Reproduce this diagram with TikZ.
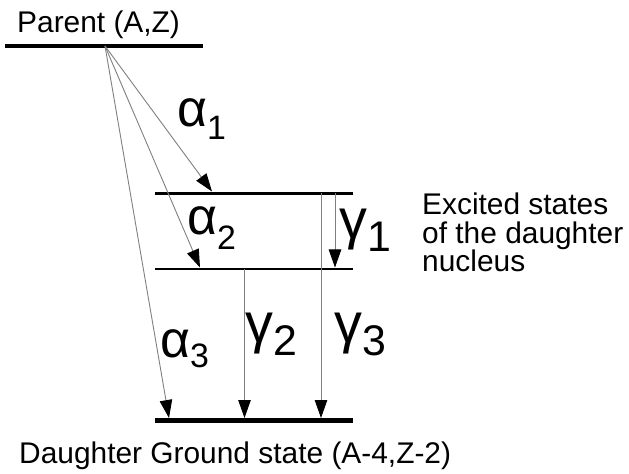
\documentclass[tikz,border=0pt]{standalone}
\usepackage{fontspec}
\setmainfont{Liberation Sans}
\usetikzlibrary{arrows.meta}
\newcommand\alphalab[2]{{\fontsize{52}{52}\selectfont α}\raisebox{#2}{\fontsize{34}{34}\selectfont #1}}
\newcommand\gammalab[1]{{\fontsize{56}{56}\selectfont γ}\raisebox{-13bp}{\fontsize{43}{43}\selectfont #1}}
\begin{document}
\begin{tikzpicture}[x=1bp,y=-1bp,
  level/.style={line width=2.6bp},
  heavylevel/.style={line width=4.8bp},
  trans/.style={draw=gray, line width=0.9bp, -{Triangle[length=18bp,width=12.5bp,color=black]}},
  txt/.style={inner sep=0pt, anchor=base west, font=\fontsize{30}{36}\selectfont},
  lbl/.style={inner sep=0pt, anchor=base west}]
\useasboundingbox (0,0) rectangle (629,474);
\fill[white] (0,0) rectangle (629,474);

% levels
\coordinate (p0) at (5,46);   \coordinate (p1) at (203,46);
\coordinate (e10) at (155,193.3); \coordinate (e11) at (353,193.3);
\coordinate (e20) at (155,269); \coordinate (e21) at (353,269);
\coordinate (g0) at (155,420.5); \coordinate (g1) at (353,420.5);
\draw[heavylevel] (p0) -- (p1);
\draw[level] (e10) -- (e11);
\draw[level] (e20) -- (e21);
\draw[heavylevel] (g0) -- (g1);

% transition end points
\coordinate (src) at (105,46);
\coordinate (a1) at (212,191.5);
\coordinate (a2) at (200,267.5);
\coordinate (a3) at (169,418);
\coordinate (g1s) at (335,193.3); \coordinate (g1e) at (335,267.5);
\coordinate (g2s) at (244.5,269); \coordinate (g2e) at (244.5,418);
\coordinate (g3s) at (321,193.3); \coordinate (g3e) at (321,418);

\draw[trans] (src) -- (a1);
\draw[trans] (src) -- (a2);
\draw[trans] (src) -- (a3);
\draw[trans] (g1s) -- (g1e);
\draw[trans] (g2s) -- (g2e);
\draw[trans] (g3s) -- (g3e);

% labels
\node[lbl] (la1) at (177,127) {\alphalab{1}{-13bp}};
\node[lbl] (la2) at (187,235) {\alphalab{2}{-15bp}};
\node[lbl] (la3) at (160,357) {\alphalab{3}{-10bp}};
\node[lbl] (lg1) at (339,239) {\gammalab{1}};
\node[lbl] (lg2) at (245,342) {\gammalab{2}};
\node[lbl] (lg3) at (334,342) {\gammalab{3}};

% texts
\node[txt] (parent) at (17,33) {Parent (A,Z)};
\node[txt] (ground) at (19,463) {Daughter Ground state (A-4,Z-2)};
\node[txt] (exc1) at (422,215) {Excited states};
\node[txt] (exc2) at (422,243.5) {of the daughter};
\node[txt] (exc3) at (422,272) {nucleus};
\end{tikzpicture}
\end{document}
